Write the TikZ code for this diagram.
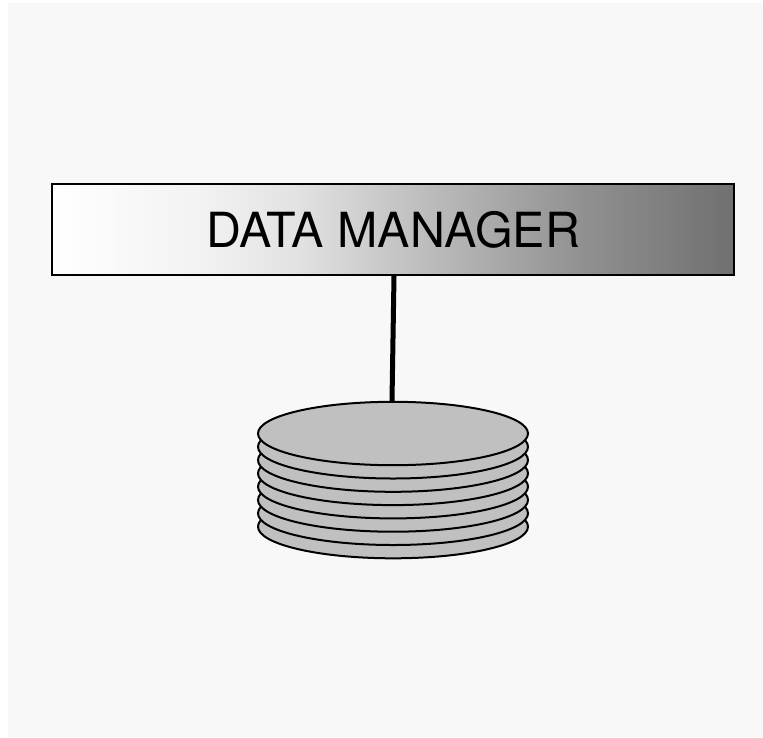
\documentclass[tikz,border=0pt]{standalone}
\usepackage{fontspec}
\setmainfont{TeX Gyre Heros}
\usepackage{xcolor}
\usetikzlibrary{shapes.geometric}
\definecolor{pagegray}{HTML}{F8F8F8}
\definecolor{diskgray}{HTML}{C0C0C0}
\definecolor{barwhite}{HTML}{FFFFFF}
\definecolor{barlight}{HTML}{F2F2F2}
\definecolor{barpale}{HTML}{E2E2E2}
\definecolor{barmid}{HTML}{C6C6C6}
\definecolor{barlow}{HTML}{909090}
\definecolor{bardark}{HTML}{707070}
% the box takes up 25bp to 75bp of the shading
\pgfdeclarehorizontalshading{managerbar}{100bp}{color(0bp)=(barwhite); color(25bp)=(barwhite); color(36bp)=(barlight); color(43bp)=(barpale); color(50bp)=(barmid); color(64bp)=(barlow); color(75bp)=(bardark); color(100bp)=(bardark)}
\begin{document}
\begin{tikzpicture} [x=1pt, y=-1pt,
    manager/.style={draw=black, line width=1.9pt, minimum width=682pt, minimum height=91pt, inner sep=0pt, shading=managerbar, font=\fontsize{48.4}{56}\selectfont},
    disk/.style={ellipse, draw=black, line width=2pt, fill=diskgray, minimum width=270pt, minimum height=63.4pt, inner sep=0pt}
  ]
  \useasboundingbox (0,0) rectangle (763,737);
  \fill[pagegray] (8,3) rectangle (763,737);
  \node[manager] (m) at (393,229.5) {DATA MANAGER};
  % stack of platters, lowest first
  \foreach \i in {7,...,0} {
    \node[disk] (d\i) at (393,{433.5+13.3*\i}) {};
  }
  \coordinate (mfoot) at ([xshift=1pt]m.south);
  \coordinate (dtop) at ([xshift=-1pt]d0.north);
  \draw[line width=5pt] (mfoot) -- (dtop);
\end{tikzpicture}
\end{document}
